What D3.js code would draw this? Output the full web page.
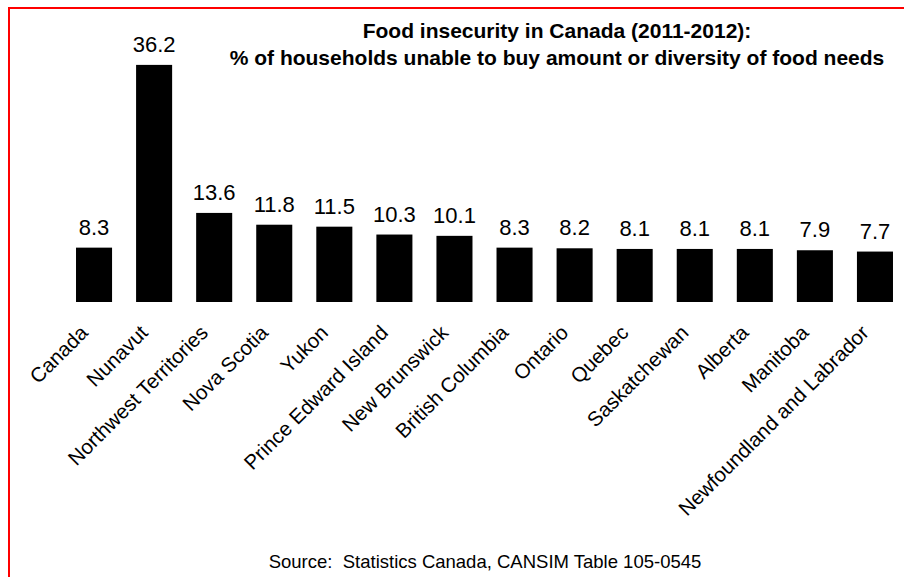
<!DOCTYPE html>
<html>
<head>
<meta charset="utf-8">
<script src="https://cdn.jsdelivr.net/npm/d3@7"></script>
<style>
  body { margin: 0; background: white; }
  text { font-family: "Liberation Sans", Arial, sans-serif; }
</style>
</head>
<body>
<script>
// data
const provinces = ["Canada", "Nunavut", "Northwest Territories", "Nova Scotia", "Yukon",
    "Prince Edward Island", "New Brunswick", "British Columbia", "Ontario", "Quebec",
    "Saskatchewan", "Alberta", "Manitoba", "Newfoundland and Labrador"]
const insecurity = [8.3, 36.2, 13.6, 11.8, 11.5, 10.3, 10.1, 8.3, 8.2, 8.1, 8.1, 8.1, 7.9, 7.7]
const titleLines = ["Food insecurity in Canada (2011-2012):",
    "% of households unable to buy amount or diversity of food needs"]
const sourceNote = "Source:  Statistics Canada, CANSIM Table 105-0545"

let width = 904
let height = 577
let barBottom = 302

let svg = d3.select("body")
    .append("svg")
        .attr("width", width)
        .attr("height", height)

// red frame, runs off the right and bottom edges
svg.append("rect")
    .attr("x", 9)
    .attr("y", 8)
    .attr("width", width + 20)
    .attr("height", height + 20)
    .attr("fill", "white")
    .attr("stroke", "#ff0000")
    .attr("stroke-width", 2)

let x = d3.scaleBand()
    .domain(provinces)
    .range([64, 905])
    .paddingInner(0.4)
    .paddingOuter(0.2)

let y = d3.scaleLinear()
    .domain([0, 40])
    .range([barBottom, 40])

let rows = provinces.map((p, i) => [p, insecurity[i]])

// Bars
svg.selectAll("rect.bar")
    .data(rows)
    .enter()
    .append("rect")
        .attr("class", "bar")
        .attr("x", d => x(d[0]))
        .attr("y", d => y(d[1]))
        .attr("width", x.bandwidth())
        .attr("height", d => barBottom - y(d[1]))
        .attr("fill", "#000")

// value labels
svg.selectAll("text.val")
    .data(rows)
    .enter()
    .append("text")
        .attr("class", "val")
        .attr("x", d => x(d[0]) + x.bandwidth() / 2)
        .attr("y", d => y(d[1]) - 13)
        .attr("text-anchor", "middle")
        .style("font-size", "22px")
        .text(d => d[1].toFixed(1))

// category axis, no line or ticks, labels at -45deg
let xAxis = svg.append("g")
    .attr("transform", "translate(0," + barBottom + ")")
    .call(d3.axisBottom(x).tickSize(0).tickPadding(0))
xAxis.select(".domain").remove()
xAxis.selectAll("text")
    .attr("y", 0)
    .attr("dy", null)
    .attr("fill", "#000")
    .style("font-size", "20.5px")
    .style("font-family", "'Liberation Sans', Arial, sans-serif")
    .style("text-anchor", "end")
    .attr("transform", "translate(-5,32)rotate(-45)")

// title
svg.selectAll("text.title")
    .data(titleLines)
    .enter()
    .append("text")
        .attr("class", "title")
        .attr("x", 557)
        .attr("y", (d, i) => 38 + i * 27)
        .attr("text-anchor", "middle")
        .style("font-size", "21px")
        .style("font-weight", "bold")
        .text(d => d)

svg.append("text")
    .attr("x", 485)
    .attr("y", 568)
    .attr("text-anchor", "middle")
    .style("font-size", "18.5px")
    .style("white-space", "pre")
    .text(sourceNote)
</script>
</body>
</html>
